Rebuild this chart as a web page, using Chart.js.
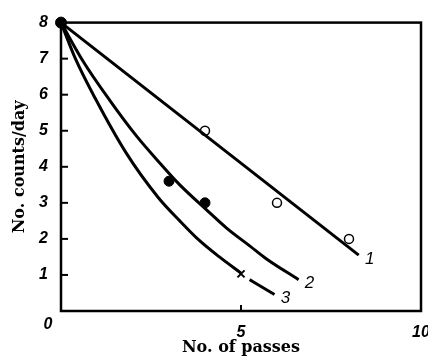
<!DOCTYPE html>
<html lang="en">
<head>
    <meta charset="UTF-8">
    <title>Counts per day vs. number of passes</title>
    <script src="https://cdn.jsdelivr.net/npm/chart.js"></script>
    <style>
        html, body { margin: 0; padding: 0; background: #fff; }
        #wrap { width: 428px; height: 360px; position: relative; }
    </style>
</head>
<body>
    <div id="wrap"><canvas id="passesChart"></canvas></div>

    <script>
        // Curve 1 (straight line)
        const passes1 = [0, 8.27];
        const counts1 = [8, 1.55];

        // Curve 2
        const passes2 = [0, 0.6, 1.35, 2.1, 2.75, 3.3, 4.05, 4.6, 5.25, 5.7, 6.6];
        const counts2 = [8, 6.95, 5.85, 4.85, 4.1, 3.5, 2.8, 2.3, 1.8, 1.45, 0.87];

        // Curve 3, broken around the cross
        const passes3 = [0, 0.4, 0.95, 1.8, 2.7, 3.3, 3.85, 4.4, 5.0];
        const counts3 = [8, 7.0, 5.9, 4.4, 3.15, 2.5, 1.95, 1.5, 1.05];
        const passes3Tail = [5.24, 5.93];
        const counts3Tail = [0.87, 0.46];

        // Measured points
        const openX = [4, 6, 8];
        const openY = [5, 3, 2];
        const filledX = [3, 4];
        const filledY = [3.6, 3];
        const crossX = [5];
        const crossY = [1.03];
        const startX = [0];
        const startY = [8];

        const curveNames = ['1', '2', '3'];
        const yTicks = [1, 2, 3, 4, 5, 6, 7];
        const xTicks = [5];

        const pts = (xs, ys) => xs.map((x, i) => ({ x: x, y: ys[i] }));

        const tickFont = { family: 'Liberation Sans', size: 16, style: 'italic', weight: 'bold' };
        const titleFont = { family: 'DejaVu Serif', size: 16, weight: 'bold' };

        const lineStyle = {
            showLine: true,
            borderColor: '#000',
            borderWidth: 3,
            pointRadius: 0,
            fill: false,
            cubicInterpolationMode: 'monotone',
            clip: false
        };

        // box around the plot, inward tick marks, curve numbers and the shared 0
        const frame = {
            id: 'frame',
            beforeDatasetsDraw(chart) {
                const { ctx, chartArea: a, scales: { x, y } } = chart;
                ctx.save();
                ctx.strokeStyle = '#000';
                ctx.lineWidth = 2.5;
                ctx.strokeRect(a.left, a.top, a.right - a.left, a.bottom - a.top);
                ctx.lineWidth = 2;
                yTicks.forEach(v => {
                    const py = y.getPixelForValue(v);
                    ctx.beginPath();
                    ctx.moveTo(a.left, py);
                    ctx.lineTo(a.left + 7, py);
                    ctx.stroke();
                });
                xTicks.forEach(v => {
                    const px = x.getPixelForValue(v);
                    ctx.beginPath();
                    ctx.moveTo(px, a.bottom);
                    ctx.lineTo(px, a.bottom - 6);
                    ctx.stroke();
                });
                ctx.restore();
            },
            afterDatasetsDraw(chart) {
                const { ctx, scales: { x, y } } = chart;
                ctx.save();
                ctx.fillStyle = '#000';
                ctx.font = 'italic 17px "Liberation Sans"';
                ctx.textAlign = 'center';
                ctx.textBaseline = 'middle';
                const ends = [
                    [passes1, counts1],
                    [passes2, counts2],
                    [passes3Tail, counts3Tail]
                ];
                ends.forEach(([xs, ys], i) => {
                    const n = xs.length - 1;
                    ctx.fillText(curveNames[i], x.getPixelForValue(xs[n]) + 11, y.getPixelForValue(ys[n]) + 4);
                });
                ctx.font = 'italic bold 16px "Liberation Sans"';
                ctx.fillText('0', x.getPixelForValue(0) - 13, y.getPixelForValue(0) + 14);
                ctx.restore();
            }
        };

        new Chart(document.getElementById('passesChart'), {
            type: 'scatter',
            data: {
                datasets: [
                    { ...lineStyle, data: pts(passes1, counts1), cubicInterpolationMode: 'default', tension: 0 },
                    { ...lineStyle, data: pts(passes2, counts2) },
                    { ...lineStyle, data: pts(passes3, counts3) },
                    { ...lineStyle, data: pts(passes3Tail, counts3Tail) },
                    {
                        data: pts(openX, openY),
                        pointStyle: 'circle',
                        pointRadius: 4.5,
                        pointBackgroundColor: '#fff',
                        pointBorderColor: '#000',
                        pointBorderWidth: 1.5,
                        clip: false
                    },
                    {
                        data: pts(filledX, filledY),
                        pointStyle: 'circle',
                        pointRadius: 5,
                        pointBackgroundColor: '#000',
                        pointBorderColor: '#000',
                        pointBorderWidth: 1,
                        clip: false
                    },
                    {
                        data: pts(crossX, crossY),
                        pointStyle: 'crossRot',
                        pointRadius: 5,
                        pointBorderColor: '#000',
                        pointBorderWidth: 2,
                        clip: false
                    },
                    {
                        data: pts(startX, startY),
                        pointStyle: 'circle',
                        pointRadius: 5.5,
                        pointBackgroundColor: '#000',
                        pointBorderColor: '#000',
                        pointBorderWidth: 1,
                        clip: false
                    }
                ]
            },
            options: {
                responsive: true,
                maintainAspectRatio: false,
                animation: false,
                layout: { padding: { top: 17, right: 7, left: 0, bottom: 0 } },
                plugins: {
                    legend: { display: false },
                    tooltip: { enabled: false }
                },
                scales: {
                    x: {
                        type: 'linear',
                        min: 0,
                        max: 10,
                        grid: { display: false },
                        border: { display: false },
                        ticks: {
                            stepSize: 5,
                            padding: 4,
                            maxRotation: 0,
                            color: '#000',
                            font: tickFont,
                            callback: v => v === 0 ? '' : v
                        },
                        title: {
                            display: true,
                            text: 'No. of passes',
                            color: '#000',
                            font: titleFont,
                            padding: { top: 0, bottom: 3 }
                        },
                        afterFit: s => { s.height = 49; s.paddingLeft = 0; s.paddingRight = 0; }
                    },
                    y: {
                        min: 0,
                        max: 8,
                        grid: { display: false, drawTicks: false },
                        border: { display: false },
                        ticks: {
                            stepSize: 1,
                            padding: 13,
                            color: '#000',
                            font: tickFont,
                            callback: v => v === 0 ? '' : v
                        },
                        title: {
                            display: true,
                            text: 'No. counts/day',
                            color: '#000',
                            font: titleFont,
                            padding: { top: 10, bottom: 0 }
                        },
                        afterFit: s => { s.width = 61; }
                    }
                }
            },
            plugins: [frame]
        });
    </script>
</body>
</html>
